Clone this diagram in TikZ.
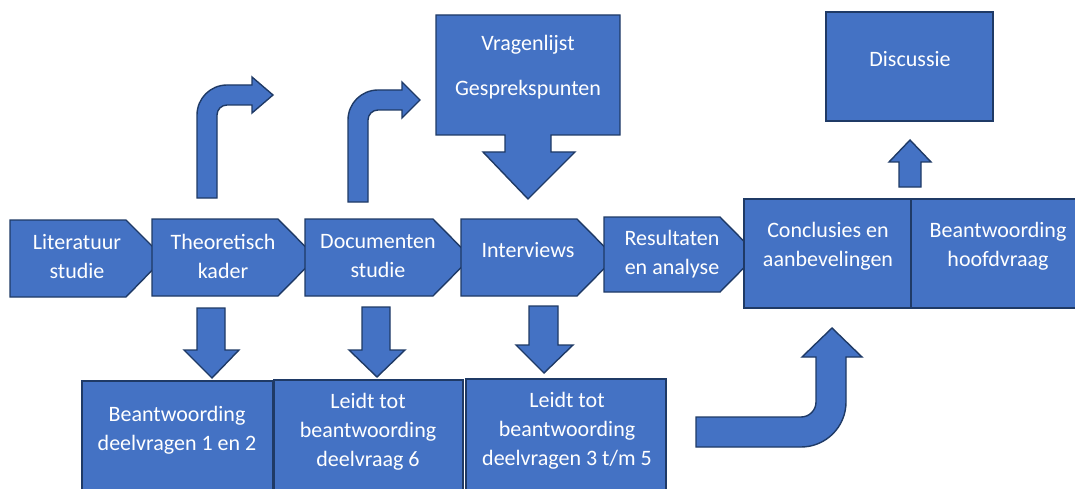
\documentclass[tikz,border=0pt]{standalone}
\usepackage{fontspec}
\setmainfont{Carlito}
\definecolor{boxfill}{HTML}{4472C4}
\definecolor{boxline}{HTML}{1F3A66}
\newcommand\lblsize{\fontsize{22}{29}\selectfont}
\begin{document}
\begin{tikzpicture}[x=1pt,y=-1pt,
  blk/.style={fill=boxfill, draw=boxline, line width=1.4pt, line join=miter},
  lbl/.style={text=white, align=center, inner sep=0pt, font=\lblsize}]
\useasboundingbox (0,0) rectangle (1075,489);
\clip (0,0) rectangle (1075,489);

% process chevrons, each drawn over the tip of the previous one
\draw[blk] (10,220) -- (126,220) -- (164,258) -- (126,297) -- (10,297) -- cycle;
\draw[blk] (152,219) -- (278,219) -- (316,257.5) -- (278,296) -- (152,296) -- cycle;
\draw[blk] (305,219) -- (433,219) -- (471,257.5) -- (433,296) -- (305,296) -- cycle;
\draw[blk] (461,219) -- (577,219) -- (615,257.5) -- (577,296) -- (461,296) -- cycle;
\draw[blk] (604,217) -- (720,217) -- (757,254.5) -- (720,292) -- (604,292) -- cycle;

% conclusions block
\draw[blk] (744,199) rectangle (911,308);
\draw[blk] (911,199) rectangle (1082,308);

% discussion box and arrow up to it
\draw[blk] (826,12) rectangle (993,121);
\draw[blk] (899,187) -- (899,162) -- (889,162) -- (910,140) -- (931,162) -- (921,162) -- (921,187) -- cycle;

% questionnaire callout pointing down to the interviews
\draw[blk] (436,15) -- (620,15) -- (620,135) -- (551,135) -- (551,152) -- (575,152)
  -- (528,199) -- (483,152) -- (505,152) -- (505,135) -- (436,135) -- cycle;

% bent arrows above theory and documents
\draw[blk] (197,198) -- (197,115) .. controls (197,98.4) and (210.4,85) .. (227,85)
  -- (252,85) -- (252,77) -- (273,95) -- (252,113) -- (252,105) -- (227,105)
  .. controls (221.5,105) and (217,109.5) .. (217,115) -- (217,198) -- cycle;
\draw[blk] (348,202) -- (348,120) .. controls (348,103.4) and (361.4,90) .. (378,90)
  -- (402,90) -- (402,82) -- (420,100) -- (402,118) -- (402,110) -- (378,110)
  .. controls (372.5,110) and (368,114.5) .. (368,120) -- (368,202) -- cycle;

% down arrows to the answer boxes
\draw[blk] (197,308) -- (225,308) -- (225,350) -- (239,350) -- (212,378) -- (184,350) -- (197,350) -- cycle;
\draw[blk] (362,307) -- (390,307) -- (390,350) -- (405,350) -- (377,377) -- (349,350) -- (362,350) -- cycle;
\draw[blk] (529,306) -- (558,306) -- (558,345) -- (573,345) -- (544,373) -- (516,345) -- (529,345) -- cycle;

% answer boxes
\draw[blk] (82,381) rectangle (273,495);
\draw[blk] (274,380) rectangle (463,495);
\draw[blk] (466,379) rectangle (666,495);

% turning arrow towards the conclusions
\draw[blk] (696,417) -- (801,417) .. controls (809.3,417) and (816,410.3) .. (816,402)
  -- (816,357) -- (802,357) -- (832,328) -- (862,357) -- (846,357) -- (846,402)
  .. controls (846,426.9) and (825.9,447) .. (801,447) -- (696,447) -- cycle;

% labels
\node[lbl] (lit)   at (77,257)  {Literatuur\\studie};
\node[lbl] (theo)  at (223,256) {Theoretisch\\kader};
\node[lbl] (doc)   at (378,256) {Documenten\\studie};
\node[lbl] (int)   at (528,250) {Interviews};
\node[lbl] (res)   at (672,254) {Resultaten\\en analyse};
\node[lbl] (concl) at (828,246) {Conclusies en\\aanbevelingen};
\node[lbl] (hoofd) at (998,246) {Beantwoording\\hoofdvraag};
\node[lbl] (vrag)  at (528,45)  {Vragenlijst};
\node[lbl] (gesp)  at (528,90)  {Gesprekspunten};
\node[lbl] (disc)  at (910,59)  {Discussie};
\node[lbl] (b1)    at (177,430) {Beantwoording\\deelvragen 1 en 2};
\node[lbl] (b2)    at (368,432) {Leidt tot\\beantwoording\\deelvraag 6};
\node[lbl] (b3)    at (567,431) {Leidt tot\\beantwoording\\deelvragen 3 t/m 5};
\end{tikzpicture}
\end{document}
